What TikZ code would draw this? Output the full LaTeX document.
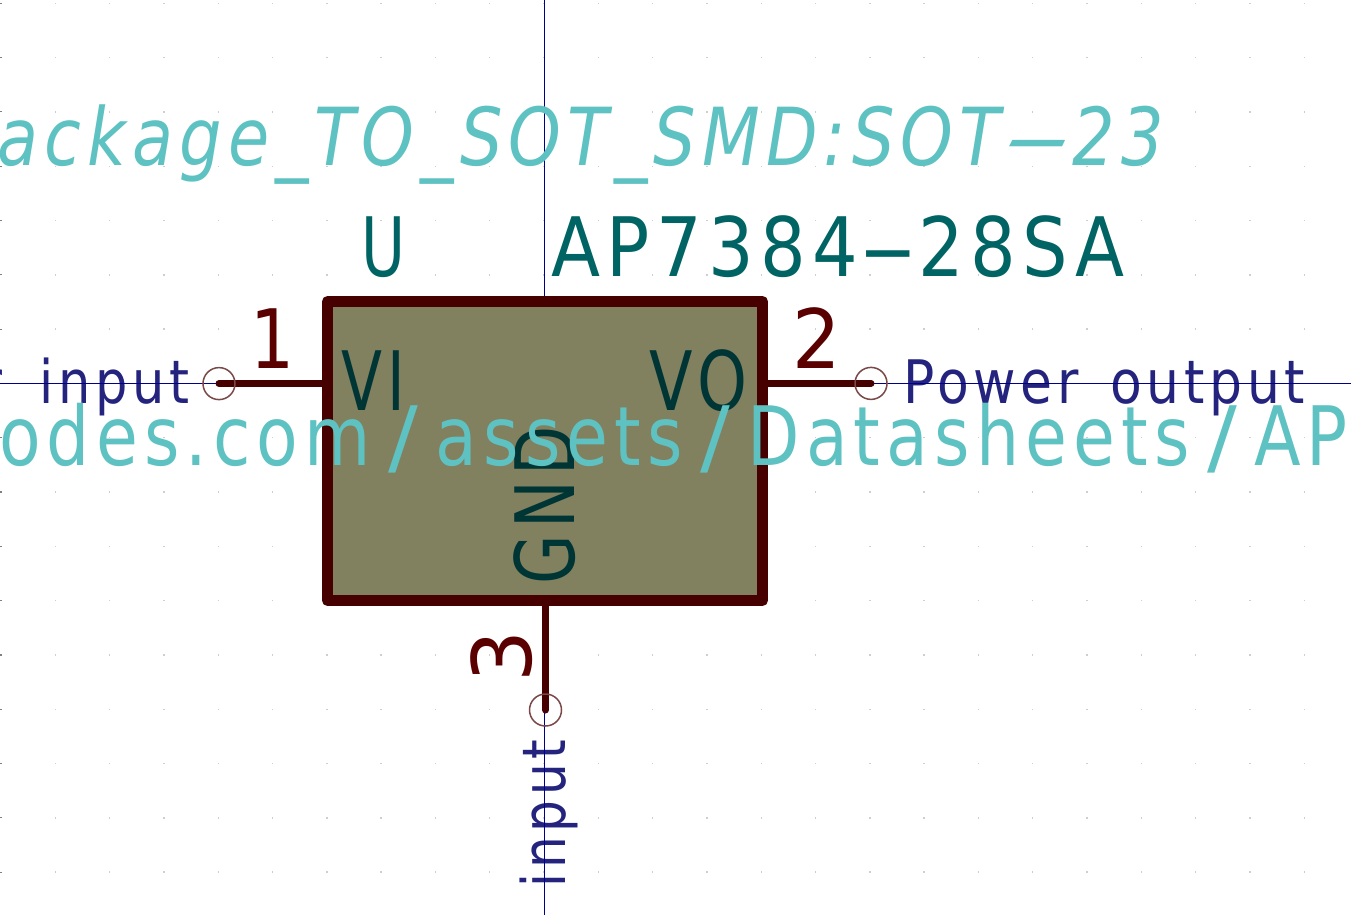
\documentclass[tikz,border=0pt]{standalone}
\usepackage{graphicx}
\usepackage{fontspec}
\setmainfont{DejaVu Sans}
\definecolor{wire}{HTML}{470000}
\definecolor{numc}{HTML}{5A0000}
\definecolor{boxfill}{HTML}{81805F}
\definecolor{cyanc}{HTML}{5FC2C2}
\definecolor{tealc}{HTML}{006464}
\definecolor{dteal}{HTML}{003535}
\definecolor{navyc}{HTML}{24247F}
\definecolor{axisc}{HTML}{00008F}
\definecolor{pinc}{HTML}{7A4848}
\definecolor{gridc}{HTML}{CECECE}
\newcommand\fitw[2]{\resizebox{#1pt}{\height}{#2}}
\newcommand\ldash{\scalebox{2.3}[1]{-}}
\newcommand\xdash{\scalebox{3}[1]{-}}
\newcommand\wslash{\hspace{21pt}\scalebox{1.3}[1]{/}\hspace{21pt}}
\tikzset{
  txt/.style={inner sep=0pt,outer sep=0pt,anchor=base west},
  big/.style={txt,font=\fontsize{82}{96}\selectfont\addfontfeature{LetterSpace=9}},
  small/.style={txt,font=\fontsize{60}{72}\selectfont\addfontfeature{LetterSpace=9},text=navyc},
  wireline/.style={draw=wire,line width=7pt,line cap=round},
  axisline/.style={draw=axisc,line width=1pt},
  pincirc/.style={circle,draw=pinc,line width=1.5pt,minimum size=32pt,inner sep=0pt,outer sep=0pt},
}
\begin{document}
\begin{tikzpicture}[x=1pt,y=-1pt]
\useasboundingbox (0,0) rectangle (1351,915);
\clip (0,0) rectangle (1351,915);
\fill[white] (0,0) rectangle (1351,915);
% grid
\foreach \j in {0,...,16}{
  \fill[gray] (0,3.3+54.3*\j-0.6) rectangle (2,3.3+54.3*\j+0.6);
  \foreach \i in {1,...,24}{
    \fill[gridc] (1+54.3*\i-0.7,3.3+54.3*\j-0.7) rectangle (1+54.3*\i+0.7,3.3+54.3*\j+0.7);
  }
}
% net labels
\node[small] (netL) at (-18,403) {\fitw{207}{r\hspace{18.5pt} input}};
\node[small] (netR) at (903,403) {\fitw{402}{Power\hspace{12pt} output}};
\node[small,rotate=90] (netB) at (565,887) {\fitw{147}{input}};
% axes
\coordinate (axL) at (0,383.5);
\coordinate (axR) at (1351,383.5);
\coordinate (axT) at (544.5,0);
\coordinate (axB) at (544.5,915);
\draw[axisline] (axL) -- (axR);
\draw[axisline] (axT) -- (axB);
% reference and value
\node[big,text=tealc] (refU) at (361,276) {\fitw{44}{U}};
\node[big,text=tealc] (valA) at (551.5,276) {\fitw{573}{AP7384\ldash 28SA}};
% pins and body
\coordinate (p1) at (219,383.6);
\coordinate (p2) at (871,383.4);
\coordinate (p3) at (545.5,710);
\node[rectangle,draw=wire,fill=boxfill,line width=11pt,line join=round,minimum width=435pt,minimum height=299pt,inner sep=0pt,outer sep=0pt] (body) at (545,451) {};
\draw[wireline] (p1) -- (body.west |- p1);
\draw[wireline] (p2) -- (body.east |- p2);
\draw[wireline] (p3) -- (p3 |- body.south);
\node[pincirc] (c1) at (p1) {};
\node[pincirc] (c2) at (p2) {};
\node[pincirc] (c3) at (p3) {};
% pin numbers
\node[big,text=numc] (n1) at (250.5,368) {\fitw{44}{1}};
\node[big,text=numc] (n2) at (792.5,368) {\fitw{48.5}{2}};
\node[big,text=numc,rotate=90] (n3) at (531,682.5) {\fitw{52}{3}};
% pin names
\node[big,text=dteal] (nVI) at (341,410.5) {\fitw{64}{VI}};
\node[big,text=dteal] (nVO) at (649,410.5) {\fitw{98}{VO}};
\node[big,text=dteal,rotate=90] (nGND) at (574,584) {\fitw{158}{GND}};
% fields
\node[big,text=cyanc] (url) at (-1,465) {\fitw{1349}{odes.com\wslash assets\wslash Datasheets\wslash AP}};
\node[txt,font=\fontsize{80}{96}\selectfont\itshape\addfontfeature{LetterSpace=9},text=cyanc] (fp) at (-2,165) {\fitw{1166}{ackage\_TO\_SOT\_SMD:SOT\xdash 23}};
\end{tikzpicture}
\end{document}
